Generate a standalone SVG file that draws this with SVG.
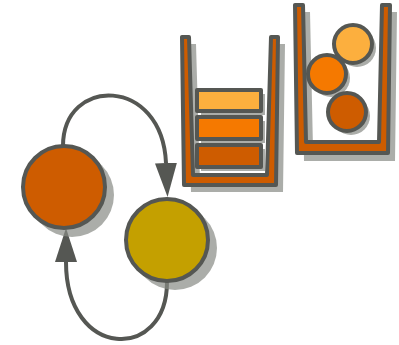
<svg xmlns="http://www.w3.org/2000/svg" width="399" height="345" viewBox="0 0 399 345">
<defs>
<style>
.st{stroke:#555753;stroke-width:4;stroke-linejoin:round}
.sh{fill:#888a85;opacity:0.7}
.ln{fill:none;stroke:#555753;stroke-width:4}
</style>
<marker id="ah" viewBox="0 0 34 22" refX="0" refY="11" markerWidth="8.5" markerHeight="5.5" orient="auto" markerUnits="strokeWidth">
<path d="M0,0 L34,11 L0,22 z" fill="#555753"/>
</marker>
</defs>
<g id="connectors">
<path class="ln" d="M63 146 C63 76, 162 76, 166 163" marker-end="url(#ah)"/>
<path class="ln" d="M167 282 C167 362, 66 360, 66 262" marker-end="url(#ah)"/>
</g>
<g id="state1">
<circle class="sh" cx="72" cy="195" r="42"/>
<circle class="st" cx="64" cy="187" r="41" fill="#ce5c00"/>
</g>
<g id="state2">
<circle class="sh" cx="175" cy="248" r="42"/>
<circle class="st" cx="167" cy="240" r="41" fill="#c4a000"/>
</g>
<g id="container1">
<path class="sh" d="M189 44 L196 44 L200 182 L274 182 L278 44 L285 44 L283 192 L191 192 Z"/>
<path class="st" stroke-width="3" fill="#ce5c00" d="M182 37 L189 37 L193 175 L267 175 L271 37 L278 37 L276 185 L184 185 Z"/>
<rect class="sh" x="201" y="94" width="64" height="21"/>
<rect class="st" stroke-width="3" x="197" y="90" width="64" height="21" fill="#fcaf3e"/>
<rect class="sh" x="201" y="121" width="64" height="22"/>
<rect class="st" stroke-width="3" x="197" y="117" width="64" height="22" fill="#f57900"/>
<rect class="sh" x="201" y="149" width="64" height="22"/>
<rect class="st" stroke-width="3" x="197" y="145" width="64" height="22" fill="#ce5c00"/>
</g>
<g id="container2">
<path class="sh" d="M302 12 L310 12 L313 149 L386 149 L389 12 L397 12 L395 161 L304 161 Z"/>
<path class="st" stroke-width="3" fill="#ce5c00" d="M295 5 L303 5 L306 142 L379 142 L382 5 L390 5 L388 153 L297 153 Z"/>
<circle class="sh" cx="357" cy="48" r="19"/>
<circle class="st" cx="353" cy="44" r="19" fill="#fcaf3e"/>
<circle class="sh" cx="331" cy="78" r="19"/>
<circle class="st" cx="327" cy="74" r="19" fill="#f57900"/>
<circle class="sh" cx="351" cy="116" r="19"/>
<circle class="st" cx="347" cy="112" r="19" fill="#ce5c00"/>
</g>
</svg>
